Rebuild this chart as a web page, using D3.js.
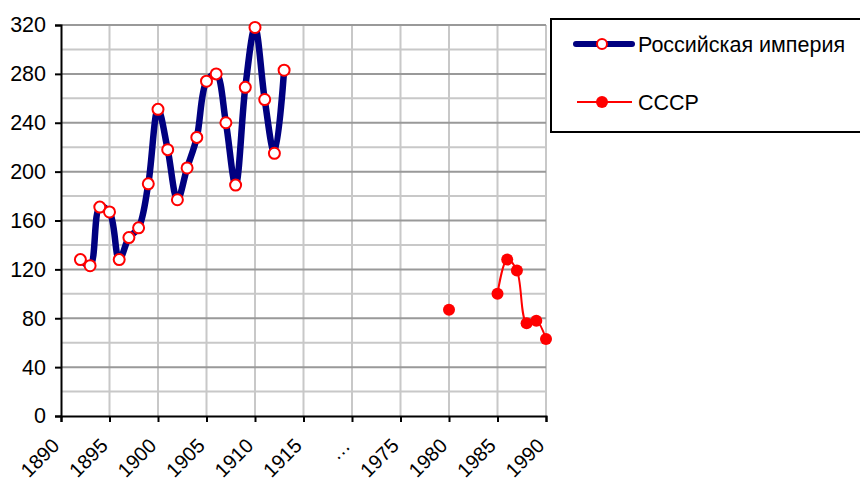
<!DOCTYPE html>
<html>
<head>
<meta charset="utf-8">
<script src="https://cdn.jsdelivr.net/npm/d3@7"></script>
<style>
  body { margin: 0; background: #fff; }
  text { font-family: "Liberation Sans", Arial, sans-serif; }
</style>
</head>
<body>
<svg id="chart" width="860" height="484"></svg>
<script>
// data
let empireYears = [1892, 1893, 1894, 1895, 1896, 1897, 1898, 1899, 1900, 1901, 1902,
                   1903, 1904, 1905, 1906, 1907, 1908, 1909, 1910, 1911, 1912, 1913];
let empireValues = [128, 123, 171, 167, 128, 146, 154, 190, 251, 218, 177,
                    203, 228, 274, 280, 240, 189, 269, 318, 259, 215, 283];
let ussrYears = [1980, 1981, 1982, 1983, 1984, 1985, 1986, 1987, 1988, 1989, 1990];
let ussrValues = [87, null, null, null, null, 100, 128, 119, 76, 78, 63];
let xTickLabels = ["1890", "1895", "1900", "1905", "1910", "1915", "\u2026", "1975", "1980", "1985", "1990"];
let yTicks = [0, 40, 80, 120, 160, 200, 240, 280, 320];
let seriesNames = ["Российская империя", "СССР"];

let svg = d3.select("#chart");
let plotLeft = 61, plotRight = 546, plotTop = 25, plotBottom = 416;
const fontSize = "21.5px";

// axis has a break: 1975.. sits where 1925.. would be
function slot(year) { return year > 1950 ? year - 50 : year; }

let x = d3.scaleLinear().domain([1890, 1940]).range([plotLeft, plotRight]);
let y = d3.scaleLinear().domain([0, 320]).range([plotBottom, plotTop]);

let tickSlots = xTickLabels.map((d, i) => 1890 + i * 5);

// minor horizontal grid
svg.append("g").selectAll("line")
    .data(d3.range(20, 320, 40))
    .enter().append("line")
    .attr("x1", plotLeft).attr("x2", plotRight)
    .attr("y1", d => y(d)).attr("y2", d => y(d))
    .style("stroke", "#c8c8c8").style("stroke-width", 2);

// vertical grid
svg.append("g").selectAll("line")
    .data(tickSlots.slice(1))
    .enter().append("line")
    .attr("x1", d => x(d)).attr("x2", d => x(d))
    .attr("y1", plotTop).attr("y2", plotBottom)
    .style("stroke", "#c8c8c8").style("stroke-width", 2);

// major horizontal grid
svg.append("g").selectAll("line")
    .data(yTicks.slice(1))
    .enter().append("line")
    .attr("x1", plotLeft).attr("x2", plotRight)
    .attr("y1", d => y(d)).attr("y2", d => y(d))
    .style("stroke", "#999").style("stroke-width", 2);

// y axis
let yAxis = svg.append("g")
    .attr("transform", `translate(${plotLeft},0)`)
    .call(d3.axisLeft(y).tickValues(yTicks).tickSize(6).tickPadding(9));
yAxis.select(".domain").style("stroke", "#000").style("stroke-width", 2);
yAxis.selectAll(".tick line").style("stroke", "#000").style("stroke-width", 2);
yAxis.selectAll("text").style("font-size", fontSize).style("fill", "#000")
    .style("font-family", "'Liberation Sans', Arial, sans-serif");

// x axis
let xAxis = svg.append("g")
    .attr("transform", `translate(0,${plotBottom})`)
    .call(d3.axisBottom(x).tickValues(tickSlots).tickSize(6)
        .tickFormat((d, i) => xTickLabels[i]));
xAxis.select(".domain").style("stroke", "#000").style("stroke-width", 2);
xAxis.selectAll(".tick line").style("stroke", "#000").style("stroke-width", 2);
xAxis.selectAll("text")
    .style("font-size", "20px").style("fill", "#000")
    .style("font-family", "'Liberation Sans', Arial, sans-serif")
    .attr("text-anchor", "end")
    .attr("dy", null)
    .attr("y", 0)
    .attr("transform", "translate(-1,31) rotate(-45)");

// Российская империя
let empire = empireYears.map((d, i) => ({ year: d, value: empireValues[i] }));
let line = d3.line()
    .x(d => x(slot(d.year)))
    .y(d => y(d.value))
    .curve(d3.curveCatmullRom.alpha(0.5));

svg.append("path")
    .datum(empire)
    .attr("d", line)
    .style("fill", "none")
    .style("stroke", "#000080")
    .style("stroke-width", 6.5);

svg.append("g").selectAll("circle")
    .data(empire)
    .enter().append("circle")
    .attr("cx", d => x(slot(d.year)))
    .attr("cy", d => y(d.value))
    .attr("r", 5.5)
    .style("fill", "#fff")
    .style("stroke", "#ff0000")
    .style("stroke-width", 2);

// СССР
let ussr = ussrYears.map((d, i) => ({ year: d, value: ussrValues[i] }));
let ussrLine = d3.line()
    .defined(d => d.value !== null)
    .x(d => x(slot(d.year)))
    .y(d => y(d.value))
    .curve(d3.curveCatmullRom.alpha(0.5));

svg.append("path")
    .datum(ussr)
    .attr("d", ussrLine)
    .style("fill", "none")
    .style("stroke", "#ff0000")
    .style("stroke-width", 2);

svg.append("g").selectAll("circle")
    .data(ussr.filter(d => d.value !== null))
    .enter().append("circle")
    .attr("cx", d => x(slot(d.year)))
    .attr("cy", d => y(d.value))
    .attr("r", 6)
    .style("fill", "#ff0000");

// legend
let legend = svg.append("g");
legend.append("rect")
    .attr("x", 551).attr("y", 19)
    .attr("width", 320).attr("height", 113)
    .style("fill", "#fff")
    .style("stroke", "#000")
    .style("stroke-width", 2);

legend.append("line")
    .attr("x1", 576).attr("x2", 632).attr("y1", 44).attr("y2", 44)
    .style("stroke", "#000080").style("stroke-width", 6).style("stroke-linecap", "round");
legend.append("circle")
    .attr("cx", 602).attr("cy", 44).attr("r", 5)
    .style("fill", "#fff").style("stroke", "#ff0000").style("stroke-width", 2);
legend.append("text")
    .attr("x", 638).attr("y", 52)
    .style("font-size", fontSize)
    .text(seriesNames[0]);

legend.append("line")
    .attr("x1", 577).attr("x2", 632).attr("y1", 102).attr("y2", 102)
    .style("stroke", "#ff0000").style("stroke-width", 2);
legend.append("circle")
    .attr("cx", 602).attr("cy", 102).attr("r", 6)
    .style("fill", "#ff0000");
legend.append("text")
    .attr("x", 638).attr("y", 110)
    .style("font-size", fontSize)
    .text(seriesNames[1]);
</script>
</body>
</html>
